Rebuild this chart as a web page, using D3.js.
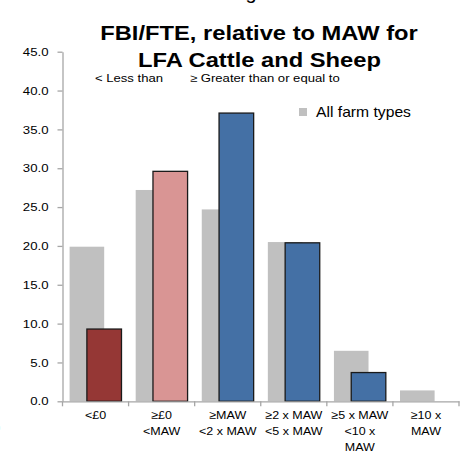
<!DOCTYPE html>
<html><head><meta charset="utf-8">
<script src="https://cdn.jsdelivr.net/npm/d3@7"></script>
<style>body{margin:0;background:#fff}svg{display:block}text{font-family:"Liberation Sans",Arial,sans-serif}</style>
</head><body>
<svg id="c" width="462" height="461"></svg>
<script>
const categories = [["<£0"],["≥£0","<MAW"],["≥MAW","<2 x MAW"],["≥2 x MAW","<5 x MAW"],["≥5 x MAW","<10 x","MAW"],["≥10 x","MAW"]];
const allFarm = [19.9, 27.2, 24.7, 20.5, 6.5, 1.4];
const lfa = [9.3, 29.6, 37.1, 20.4, 3.7, null];
const lfaColors = ["#953735","#d99594","#4470a5","#4470a5","#4470a5",null];
const yTicks = [0,5,10,15,20,25,30,35,40,45];

const svg = d3.select("#c");
const x = d3.scaleBand().domain(d3.range(categories.length)).range([62.5,459]).padding(0);
const y = d3.scaleLinear().domain([0,45]).range([401.3,51.7]);
const bw = x.bandwidth();
const gap = 0.41;
const w = bw/(1.5+gap);
const off0 = gap*w/2;
const off1 = off0 + w/2;
const axisColor = "#a6a6a6";

function txt(px, py, s, size, sx, opts={}) {
  const t = svg.append("text").attr("transform",`translate(${px},${py}) scale(${sx},1)`)
    .attr("font-size",size).text(s);
  if (opts.anchor) t.attr("text-anchor",opts.anchor);
  if (opts.bold) t.attr("font-weight","bold");
  if (opts.fill) t.attr("fill",opts.fill);
  return t;
}

// partial clipped texts at edges
txt(251, -1, "g", 20, 1, {anchor:"middle"});
txt(-6, 432, "0", 11, 1, {fill:"#333"});

// bars
svg.append("g").selectAll("rect").data(allFarm).join("rect")
  .attr("x",(d,i)=>x(i)+off0).attr("width",w)
  .attr("y",d=>y(d)).attr("height",d=>y(0)-y(d)).attr("fill","#c0c0c0");
svg.append("g").selectAll("rect").data(lfa.map((v,i)=>({v,i})).filter(d=>d.v!=null)).join("rect")
  .attr("x",d=>x(d.i)+off1).attr("width",w)
  .attr("y",d=>y(d.v)).attr("height",d=>y(0)-y(d.v)).attr("fill",d=>lfaColors[d.i])
  .attr("stroke","#1a1a1a").attr("stroke-width",1.3);

// y axis
const ysx = 1.15;
const ya = svg.append("g").attr("transform","translate(62.5,0)")
  .call(d3.axisLeft(y).tickValues(yTicks).tickFormat(d3.format(".1f")).tickSize(5).tickSizeOuter(0));
ya.select(".domain").attr("stroke",axisColor).attr("stroke-width",1.3);
ya.selectAll(".tick line").attr("stroke",axisColor).attr("stroke-width",1.3);
ya.selectAll(".tick text").attr("font-size",11.5).attr("fill","#000")
  .attr("x",-14/ysx).attr("transform",`scale(${ysx},1)`).attr("font-family","Liberation Sans, Arial, sans-serif");

// x axis
const xa = svg.append("g").attr("transform",`translate(0,${y(0)})`)
  .call(d3.axisBottom(x).tickSize(0).tickFormat(""));
xa.select(".domain").attr("stroke",axisColor).attr("stroke-width",1.3);
const xt = d3.range(categories.length+1).map(i=>i<categories.length?x(i):x(categories.length-1)+bw);
svg.append("g").selectAll("line").data(xt).join("line")
  .attr("x1",d=>d).attr("x2",d=>d).attr("y1",y(0)).attr("y2",y(0)+5)
  .attr("stroke",axisColor).attr("stroke-width",1.3);
categories.forEach((lines,i)=>{
  lines.forEach((s,j)=>txt(x(i)+bw/2, 419+j*15.8, s, 11.8, 1.06, {anchor:"middle"}));
});

// title
txt(259, 40, "FBI/FTE, relative to MAW for", 21, 1.13, {anchor:"middle", bold:true});
txt(259.5, 66.5, "LFA Cattle and Sheep", 21, 1.13, {anchor:"middle", bold:true});
txt(95, 82, "< Less than", 11, 1.19);
txt(190, 82, "≥ Greater than or equal to", 11, 1.19);

// legend
svg.append("rect").attr("x",299).attr("y",108).attr("width",8).attr("height",8).attr("fill","#c0c0c0");
txt(316, 117, "All farm types", 14, 1.12);
</script>
</body></html>
